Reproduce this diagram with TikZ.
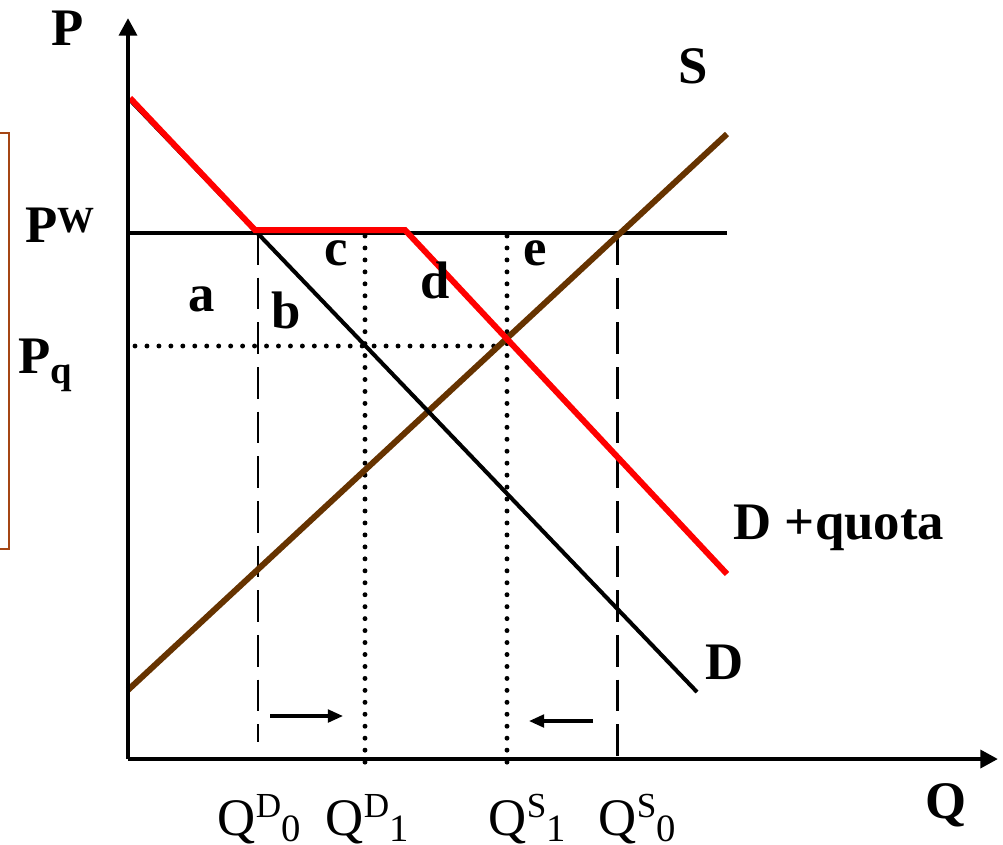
\documentclass[tikz,border=0pt]{standalone}
\usepackage{fontspec}
\setmainfont{Liberation Serif}
\usetikzlibrary{arrows.meta}
\definecolor{qred}{RGB}{255,0,0}
\definecolor{qbrown}{RGB}{102,51,0}
\definecolor{qrust}{RGB}{165,70,20}
\tikzset{
  axisline/.style={line width=1.3pt,-{Triangle[length=5pt,width=5pt]}},
  demline/.style={line width=1.15pt},
  quotaline/.style={draw=qred,line width=1.7pt},
  supline/.style={draw=qbrown,line width=1.7pt},
  dashline/.style={line width=0.85pt,dash pattern=on 9pt off 3.7pt},
  dotline/.style={line width=1.4pt,line cap=round,dash pattern=on 0pt off 3.4pt},
  shiftarrow/.style={line width=0.9pt,-{Triangle[length=4.3pt,width=3.6pt]}},
  biglab/.style={font=\fontsize{15}{18}\selectfont\bfseries,inner sep=0pt},
  qlab/.style={font=\fontsize{15}{18}\selectfont,inner sep=0pt,anchor=base west},
}
\newcommand{\qname}[2]{Q\raisebox{0.18cm}{\fontsize{10}{10}\selectfont #1}\raisebox{-0.06cm}{\fontsize{11}{11}\selectfont #2}}
\begin{document}
\begin{tikzpicture}[x=0.01cm,y=-0.01cm]
  \useasboundingbox (0,0) rectangle (1003,844);
  % points
  \coordinate (O) at (128,759);
  \coordinate (ptop) at (128,18);
  \coordinate (qend) at (998,759);
  \coordinate (pw0) at (128,233);
  \coordinate (pw1) at (727,233);
  % bracket
  \draw[qrust,line width=0.6pt] (0,133) -- (9,133) -- (9,549) -- (0,549);
  % world price and quota price
  \draw[line width=0.9pt] (pw0) -- (pw1);
  \draw[dotline] (135,346) -- (505,346);
  % quantities
  \draw[dashline] (258,233) -- (258,742);
  \draw[dashline] (617,233) -- (617,759);
  \draw[dotline] (365,236) -- (365,768);
  \draw[dotline] (507,236) -- (507,768);
  % curves
  \draw[supline] (128,690) -- (727,134);
  \draw[demline] (130,100) -- (697,692);
  \draw[quotaline] (130,98) -- (255,230) -- (405,230) -- (727,574);
  % axes
  \draw[axisline] (O) -- (ptop);
  \draw[axisline] (O) -- (qend);
  % shifts
  \coordinate (r0) at (270,716); \coordinate (r1) at (343,716);
  \coordinate (l0) at (593,721); \coordinate (l1) at (529,721);
  \draw[shiftarrow] (r0) -- (r1);
  \draw[shiftarrow] (l0) -- (l1);
  % labels
  \node[biglab,anchor=base] (plab) at (68,45) {P};
  \node[biglab,anchor=base] (qlabel) at (946,818) {Q};
  \node[biglab,anchor=base] (slab) at (693,83) {S};
  \node[biglab,anchor=base west] (pwlab) at (25,242) {P\raisebox{0.1cm}{\fontsize{10.5}{10}\selectfont W}};
  \node[biglab,anchor=base west] (pqlab) at (18,373) {P\raisebox{-0.1cm}{\fontsize{11}{10}\selectfont q}};
  \node[biglab,anchor=base west] (dqlab) at (733,539) {D +quota};
  \node[biglab,anchor=base west] (dlab) at (705,679) {D};
  \node[biglab,anchor=base] (alab) at (202,311) {a};
  \node[biglab,anchor=base] (blab) at (286,328) {b};
  \node[biglab,anchor=base] (clab) at (336,265) {c};
  \node[biglab,anchor=base] (dlab2) at (435,298) {d};
  \node[biglab,anchor=base] (elab) at (535,265) {e};
  \node[qlab] (qd0) at (217,835) {\qname{D}{0}};
  \node[qlab] (qd1) at (325,835) {\qname{D}{1}};
  \node[qlab] (qs1) at (488,835) {\qname{S}{1}};
  \node[qlab] (qs0) at (598,835) {\qname{S}{0}};
\end{tikzpicture}
\end{document}
